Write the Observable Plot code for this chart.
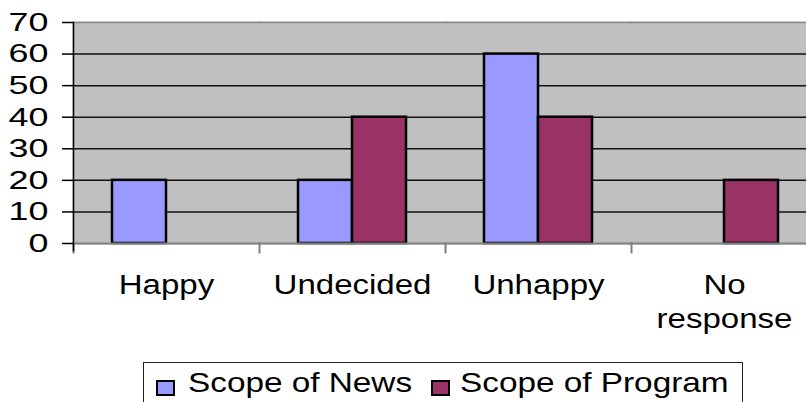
<!DOCTYPE html>
<html>
<head>
<meta charset="utf-8">
<script src="https://cdn.jsdelivr.net/npm/d3@7"></script>
<script src="https://cdn.jsdelivr.net/npm/@observablehq/plot@0.6"></script>
<style>
  html, body { margin: 0; padding: 0; background: #fff; overflow: hidden; }
  #wrap { position: relative; width: 806px; height: 402px; overflow: hidden; font-family: "Liberation Sans", Arial, sans-serif; }
  #chart { position: absolute; left: 0; top: 0; width: 830px; }
  #chart svg { max-width: none !important; }
  #legend { position: absolute; left: 143px; top: 362px; width: 600px; height: 60px; border: 1px solid #222; box-sizing: border-box; background: #fff; }
  .sw { position: absolute; top: 17px; width: 15px; height: 12px; border: 2px solid #000; }
  .lt { position: absolute; top: 6px; font-size: 28px; line-height: 28px; white-space: nowrap; color: #000; transform: scaleX(1.19); transform-origin: left center; }
</style>
</head>
<body>
<div id="wrap">
  <div id="chart"></div>
  <div id="legend"></div>
</div>
<script>
const categories = ["Happy", "Undecided", "Unhappy", "No response"];
const categoryLabels = ["Happy", "Undecided", "Unhappy", "No\nresponse"];
const series = ["Scope of News", "Scope of Program"];
const newsValues = [20, 20, 60, 0];
const programValues = [0, 40, 40, 20];
const colors = ["#9999FF", "#993366"];
const yTicks = [0, 10, 20, 30, 40, 50, 60, 70];

const data = [];
categories.forEach((c, i) => {
  data.push({category: c, series: series[0], value: newsValues[i]});
  data.push({category: c, series: series[1], value: programValues[i]});
});

const W = 830, H = 345, mT = 22, mB = 102, mL = 73, mR = 13;
const plotH = H - mT - mB;
const font = '"Liberation Sans", Arial, sans-serif';

const chart = Plot.plot({
  width: W, height: H,
  marginTop: mT, marginBottom: mB, marginLeft: mL, marginRight: mR,
  style: {fontFamily: font, color: "#000", background: "transparent", overflow: "visible", maxWidth: "none"},
  fx: {domain: categories, padding: 0, axis: null, label: null},
  x: {domain: series, paddingInner: 0, paddingOuter: 0.722, axis: null, label: null},
  y: {domain: [0, 70], axis: null, label: null},
  color: {domain: series, range: colors},
  marks: [
    Plot.frame({fill: "#C0C0C0", stroke: "#C0C0C0", strokeWidth: 2}),
    Plot.gridY(yTicks.filter(v => v > 0 && v < 70), {stroke: "#111", strokeOpacity: 1, strokeWidth: 1.5}),
    Plot.frame({anchor: "top", stroke: "#888", strokeWidth: 1.5}),
    Plot.barY(data, {filter: d => d.value > 0, fx: "category", x: "series", y: "value", fill: "series", stroke: "#000", strokeWidth: 2.5}),
    Plot.frame({anchor: "bottom", stroke: "#808080", strokeWidth: 2}),
    Plot.frame({anchor: "left", stroke: "#808080", strokeWidth: 2, insetTop: plotH, insetBottom: -9}),
    Plot.frame({anchor: "left", stroke: "#000", strokeWidth: 1.5, insetBottom: -7, facetAnchor: "left"}),
    Plot.axisY({ticks: yTicks, tickSize: 11, tickPadding: 14, fontSize: 26, stroke: "#000", strokeWidth: 1.5, label: null}),
    Plot.axisFx({anchor: "bottom", tickSize: 0, tickPadding: 27, fontSize: 28, lineHeight: 1.2, label: null,
      tickFormat: d => categoryLabels[categories.indexOf(d)]})
  ]
});

document.getElementById("chart").appendChild(chart);

function stretch(selector, s) {
  chart.querySelectorAll(selector).forEach(t => {
    const tr = t.getAttribute("transform");
    if (tr) t.setAttribute("transform", tr + ` scale(${s},1)`);
  });
}
stretch('g[aria-label="y-axis tick label"] text', 1.38);
stretch('g[aria-label="fx-axis tick label"] text', 1.18);

const legend = document.getElementById("legend");
const swLeft = [12, 287];
const txtLeft = [44, 316];
series.forEach((s, i) => {
  const sw = document.createElement("div");
  sw.className = "sw";
  sw.style.left = swLeft[i] + "px";
  sw.style.background = colors[i];
  legend.appendChild(sw);
  const t = document.createElement("div");
  t.className = "lt";
  t.style.left = txtLeft[i] + "px";
  t.textContent = s;
  legend.appendChild(t);
});
</script>
</body>
</html>
